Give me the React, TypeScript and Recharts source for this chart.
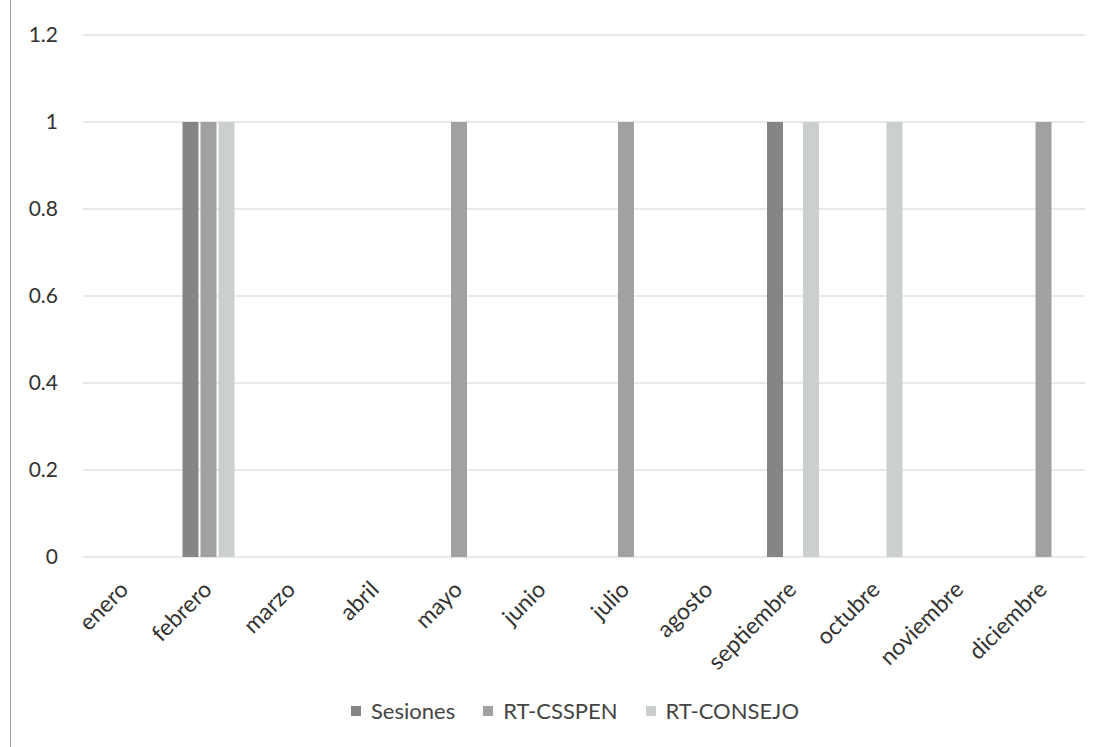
import { BarChart, Bar, XAxis, YAxis, CartesianGrid, Legend } from 'recharts';

const months = [
  'enero', 'febrero', 'marzo', 'abril', 'mayo', 'junio',
  'julio', 'agosto', 'septiembre', 'octubre', 'noviembre', 'diciembre'
];
const sesiones = [0, 1, 0, 0, 0, 0, 0, 0, 1, 0, 0, 0];
const rtCsspen = [0, 1, 0, 0, 1, 0, 1, 0, 0, 0, 0, 1];
const rtConsejo = [0, 1, 0, 0, 0, 0, 0, 0, 1, 1, 0, 0];
const yTicks = [0, 0.2, 0.4, 0.6, 0.8, 1, 1.2];

const series = [
  { key: 'Sesiones', fill: '#858585' },
  { key: 'RT-CSSPEN', fill: '#a1a1a1' },
  { key: 'RT-CONSEJO', fill: '#cbcfce' }
];

const chartData = months.map((m, i) => ({
  month: m,
  'Sesiones': sesiones[i],
  'RT-CSSPEN': rtCsspen[i],
  'RT-CONSEJO': rtConsejo[i]
}));

const FONT = 'Lato, "Open Sans", sans-serif';

function MonthTick({ x, y, payload }: any) {
  return (
    <g transform={`translate(${x + 5},${y + 26})`}>
      <text
        textAnchor="end"
        transform="rotate(-45)"
        fontSize={23}
        fontFamily={FONT}
        fill="#333"
      >
        {payload.value}
      </text>
    </g>
  );
}

function LegendContent() {
  return (
    <div style={{ display: 'flex', justifyContent: 'center', fontFamily: FONT, fontSize: 22, color: '#444' }}>
      {series.map((s, i) => (
        <div key={s.key} style={{ display: 'flex', alignItems: 'center', marginRight: i < 2 ? 28 : 0 }}>
          <span style={{ display: 'inline-block', width: 10, height: 10, background: s.fill, marginRight: 10 }} />
          <span>{s.key}</span>
        </div>
      ))}
    </div>
  );
}

export default function App() {
  return (
    <div style={{ position: 'absolute', left: 0, top: 0, width: 1104, height: 747, background: '#fff' }}>
      <div style={{ position: 'absolute', left: 10, top: 0, width: 1, height: 747, background: '#9a9a9a' }} />
      <BarChart
        width={1104}
        height={747}
        data={chartData}
        margin={{ top: 35, right: 19, bottom: 0, left: 0 }}
        barSize={16}
        barGap={2}
      >
        <CartesianGrid vertical={false} stroke="#e2e2e2" strokeWidth={1.5} />
        <XAxis
          dataKey="month"
          axisLine={false}
          tickLine={false}
          interval={0}
          height={163}
          tick={<MonthTick />}
        />
        <YAxis
          domain={[0, 1.2]}
          ticks={yTicks}
          width={83}
          axisLine={false}
          tickLine={false}
          tickSize={0}
          tickMargin={25}
          tick={{ fontSize: 21, fontFamily: FONT, fill: '#333' }}
        />
        {series.map((s) => (
          <Bar key={s.key} dataKey={s.key} fill={s.fill} isAnimationActive={false} />
        ))}
        <Legend
          content={<LegendContent />}
          wrapperStyle={{ top: 697, left: 0, width: 1150 }}
        />
      </BarChart>
    </div>
  );
}
